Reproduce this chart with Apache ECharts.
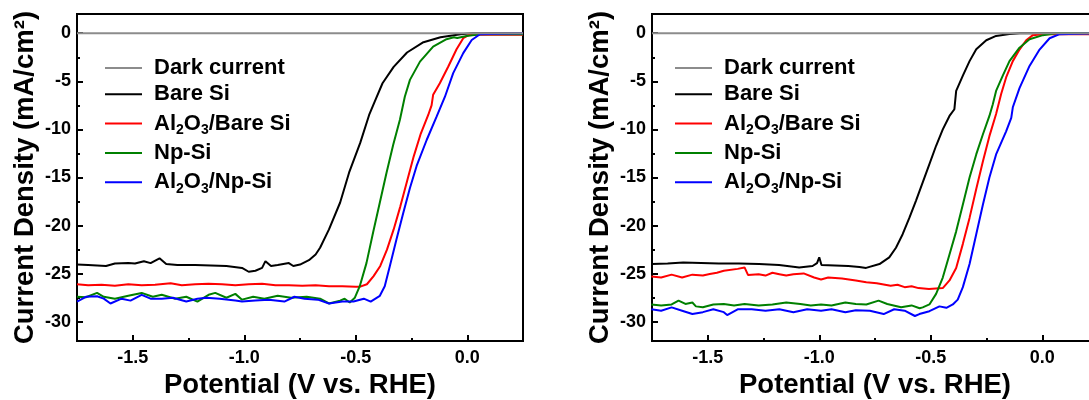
<!DOCTYPE html>
<html><head><meta charset="utf-8">
<script src="https://cdn.jsdelivr.net/npm/echarts@6/dist/echarts.min.js"></script>
<style>html,body{margin:0;padding:0;background:#fff}#c{width:1089px;height:400px}</style>
</head><body><div id="c"></div>
<script>
// ---------- data ----------
const seriesNames = ['Dark current', 'Bare Si', 'Al2O3/Bare Si', 'Np-Si', 'Al2O3/Np-Si'];
const seriesColors = ['#8c8c8c', '#000000', '#ff0000', '#008000', '#0000ff'];
const xRange = [-1.75, 0.25];
const yRange = [-32, 2];
const xMajorTicks = [-1.5, -1.0, -0.5, 0.0];
const xMinorTicks = [-1.25, -0.75, -0.25];
const yMajorTicks = [0, -5, -10, -15, -20, -25, -30];
const yMinorTicks = [-2.5, -7.5, -12.5, -17.5, -22.5, -27.5];

// Left panel
const leftDark = [[-1.75, 0], [0.25, 0]];
const leftBare = [[-1.75,-24.05],[-1.70,-24.1],[-1.62,-24.2],[-1.58,-23.95],[-1.52,-23.9],[-1.49,-23.95],[-1.45,-23.7],[-1.42,-23.9],[-1.38,-23.4],[-1.35,-24.0],[-1.30,-24.1],[-1.22,-24.1],[-1.15,-24.15],[-1.08,-24.2],[-1.01,-24.4],[-0.98,-24.8],[-0.95,-24.7],[-0.92,-24.4],[-0.905,-23.7],[-0.88,-24.2],[-0.85,-24.1],[-0.80,-23.9],[-0.78,-24.2],[-0.75,-24.05],[-0.71,-23.6],[-0.68,-23.0],[-0.66,-22.3],[-0.62,-20.4],[-0.57,-17.6],[-0.53,-14.5],[-0.48,-11.4],[-0.44,-8.5],[-0.415,-7.1],[-0.38,-5.2],[-0.33,-3.5],[-0.27,-2.0],[-0.20,-0.97],[-0.12,-0.41],[-0.03,-0.1],[0.02,0],[0.25,0]];
const leftAlBare = [[-1.75,-26.1],[-1.70,-26.2],[-1.64,-26.15],[-1.58,-26.25],[-1.52,-26.1],[-1.46,-26.2],[-1.40,-26.15],[-1.33,-26.0],[-1.28,-26.2],[-1.22,-26.1],[-1.16,-26.05],[-1.10,-26.1],[-1.04,-26.2],[-0.98,-26.1],[-0.92,-26.05],[-0.86,-26.2],[-0.80,-26.2],[-0.74,-26.25],[-0.68,-26.2],[-0.62,-26.3],[-0.56,-26.3],[-0.50,-26.35],[-0.48,-26.35],[-0.45,-26.1],[-0.42,-25.25],[-0.39,-24.2],[-0.36,-22.5],[-0.33,-20.4],[-0.30,-18.0],[-0.27,-15.4],[-0.24,-12.8],[-0.21,-10.55],[-0.175,-8.5],[-0.16,-7.5],[-0.153,-6.4],[-0.123,-5.2],[-0.085,-3.46],[-0.048,-1.66],[-0.018,-0.52],[0.012,-0.12],[0.05,-0.15],[0.25,-0.15]];
const leftNp = [[-1.75,-27.4],[-1.71,-27.45],[-1.66,-27.0],[-1.63,-27.4],[-1.58,-27.6],[-1.52,-27.3],[-1.46,-27.0],[-1.41,-27.4],[-1.37,-27.2],[-1.31,-27.6],[-1.26,-27.4],[-1.21,-27.9],[-1.16,-27.2],[-1.13,-27.0],[-1.08,-27.5],[-1.04,-27.1],[-1.01,-27.7],[-0.96,-27.4],[-0.91,-27.6],[-0.85,-27.3],[-0.79,-27.5],[-0.72,-27.4],[-0.66,-27.6],[-0.62,-28.1],[-0.57,-27.8],[-0.55,-27.6],[-0.527,-28.0],[-0.504,-27.5],[-0.482,-26.3],[-0.452,-23.9],[-0.422,-20.7],[-0.392,-17.6],[-0.362,-14.5],[-0.332,-11.6],[-0.302,-9.0],[-0.28,-6.6],[-0.257,-4.85],[-0.212,-2.95],[-0.153,-1.39],[-0.093,-0.62],[-0.06,-0.42],[-0.045,-0.5],[-0.003,-0.28],[0.057,-0.1],[0.25,-0.1]];
const leftAlNp = [[-1.75,-27.9],[-1.71,-27.4],[-1.66,-27.35],[-1.63,-27.6],[-1.60,-28.1],[-1.55,-27.6],[-1.51,-27.8],[-1.46,-27.2],[-1.42,-27.6],[-1.37,-27.6],[-1.32,-27.5],[-1.26,-27.9],[-1.21,-27.6],[-1.17,-27.5],[-1.11,-27.6],[-1.04,-27.8],[-1.01,-27.9],[-0.95,-27.8],[-0.89,-27.7],[-0.82,-27.9],[-0.775,-27.4],[-0.73,-27.6],[-0.67,-27.7],[-0.62,-28.1],[-0.56,-27.9],[-0.51,-27.9],[-0.464,-27.6],[-0.433,-27.9],[-0.392,-27.3],[-0.37,-26.3],[-0.347,-24.2],[-0.317,-21.4],[-0.287,-18.7],[-0.257,-16.1],[-0.227,-13.8],[-0.182,-11.1],[-0.137,-8.65],[-0.10,-6.6],[-0.063,-4.15],[-0.018,-2.07],[0.02,-0.7],[0.057,-0.1],[0.25,0]];

// Right panel
const rightDark = [[-1.75, 0], [0.25, 0]];
const rightBare = [[-1.75,-24.0],[-1.68,-23.95],[-1.61,-23.85],[-1.53,-23.9],[-1.45,-23.95],[-1.36,-23.95],[-1.27,-24.0],[-1.18,-24.1],[-1.09,-24.35],[-1.03,-24.2],[-1.01,-23.9],[-1.0,-23.3],[-0.99,-24.1],[-0.93,-24.15],[-0.87,-24.2],[-0.82,-24.3],[-0.79,-24.4],[-0.73,-24.0],[-0.686,-23.3],[-0.656,-22.3],[-0.626,-20.9],[-0.596,-19.2],[-0.566,-17.4],[-0.536,-15.5],[-0.506,-13.6],[-0.476,-11.7],[-0.446,-10.0],[-0.416,-8.6],[-0.394,-7.9],[-0.386,-6.0],[-0.356,-4.4],[-0.326,-2.9],[-0.296,-1.67],[-0.251,-0.73],[-0.207,-0.28],[-0.147,-0.08],[-0.10,0],[0.25,0]];
const rightAlBare = [[-1.753,-25.3],[-1.709,-25.4],[-1.662,-25.1],[-1.615,-25.4],[-1.569,-25.1],[-1.522,-25.2],[-1.491,-25.04],[-1.459,-24.9],[-1.428,-24.7],[-1.366,-24.5],[-1.335,-24.35],[-1.319,-25.15],[-1.272,-25.05],[-1.241,-25.2],[-1.21,-24.9],[-1.179,-25.05],[-1.148,-25.2],[-1.116,-25.05],[-1.07,-24.97],[-1.023,-25.4],[-0.992,-25.6],[-0.96,-25.4],[-0.898,-25.5],[-0.867,-25.6],[-0.836,-25.7],[-0.789,-25.9],[-0.742,-26.0],[-0.68,-26.25],[-0.649,-26.15],[-0.617,-26.4],[-0.586,-26.3],[-0.555,-26.5],[-0.508,-26.6],[-0.446,-26.5],[-0.416,-25.7],[-0.386,-24.4],[-0.356,-21.9],[-0.326,-19.2],[-0.296,-16.2],[-0.266,-13.3],[-0.237,-10.7],[-0.207,-8.4],[-0.184,-6.3],[-0.162,-4.6],[-0.132,-2.9],[-0.102,-1.7],[-0.072,-0.73],[-0.042,-0.2],[0.0,-0.1],[0.25,-0.1]];
const rightNp = [[-1.753,-28.2],[-1.709,-28.3],[-1.662,-28.2],[-1.631,-27.8],[-1.60,-28.15],[-1.569,-28.0],[-1.553,-28.4],[-1.522,-28.5],[-1.475,-28.2],[-1.428,-28.15],[-1.382,-28.3],[-1.335,-28.15],[-1.272,-28.3],[-1.21,-28.2],[-1.148,-28.0],[-1.085,-28.15],[-1.038,-28.3],[-0.992,-28.2],[-0.945,-28.3],[-0.883,-28.0],[-0.836,-28.15],[-0.789,-28.2],[-0.734,-27.8],[-0.695,-28.15],[-0.633,-28.5],[-0.586,-28.3],[-0.55,-28.6],[-0.536,-28.5],[-0.506,-28.2],[-0.476,-27.1],[-0.446,-25.4],[-0.416,-23.0],[-0.386,-20.6],[-0.356,-17.8],[-0.326,-15.0],[-0.296,-12.6],[-0.266,-10.5],[-0.237,-8.6],[-0.222,-7.4],[-0.207,-6.0],[-0.177,-4.4],[-0.147,-2.9],[-0.102,-1.5],[-0.057,-0.63],[0.003,-0.2],[0.06,0],[0.25,0]];
const rightAlNp = [[-1.753,-28.7],[-1.709,-28.85],[-1.662,-28.5],[-1.615,-28.85],[-1.569,-29.2],[-1.522,-29.0],[-1.475,-28.7],[-1.428,-29.0],[-1.413,-29.3],[-1.366,-28.7],[-1.303,-28.7],[-1.241,-28.85],[-1.179,-28.7],[-1.116,-29.0],[-1.054,-28.7],[-0.992,-28.85],[-0.945,-28.7],[-0.883,-29.0],[-0.836,-28.8],[-0.773,-28.85],[-0.711,-29.2],[-0.664,-28.7],[-0.617,-28.85],[-0.571,-29.4],[-0.551,-29.2],[-0.506,-28.9],[-0.461,-28.4],[-0.43,-28.55],[-0.401,-28.2],[-0.379,-27.7],[-0.356,-26.4],[-0.326,-24.0],[-0.296,-20.9],[-0.266,-17.8],[-0.237,-15.0],[-0.207,-12.6],[-0.162,-10.2],[-0.139,-8.8],[-0.132,-7.7],[-0.102,-5.7],[-0.057,-3.4],[-0.012,-1.7],[0.033,-0.52],[0.078,-0.1],[0.25,0]];

const panels = [
  [leftDark, leftBare, leftAlBare, leftNp, leftAlNp],
  [rightDark, rightBare, rightAlBare, rightNp, rightAlNp]
];

// ---------- chart ----------
const FONT = '"Liberation Sans", Arial, Helvetica, sans-serif';
const gridBoxes = [
  { left: 77, top: 14, width: 446, height: 327 },
  { left: 652, top: 14, width: 446, height: 327 }
];
const legendPos = [{ left: 105, top: 57 }, { left: 675, top: 57 }];

function richName(name) {
  return name.split(/(\d)/).filter(s => s.length).map(s => /^\d$/.test(s) ? '{s|' + s + '}' : '{n|' + s + '}').join('');
}

const grid = [], xAxis = [], yAxis = [], series = [], legend = [];
gridBoxes.forEach((g, i) => {
  grid.push(Object.assign({ show: true, borderColor: '#000', borderWidth: 2, backgroundColor: 'transparent', containLabel: false, outerBoundsMode: 'none' }, g));
  xAxis.push({
    gridIndex: i, type: 'value', position: 'bottom', min: xRange[0], max: xRange[1],
    axisLine: { onZero: false, lineStyle: { color: '#000', width: 2 } },
    axisTick: { inside: true, length: 6, lineStyle: { color: '#000', width: 2 }, customValues: xMajorTicks },
    axisLabel: { customValues: xMajorTicks, formatter: v => Number(v).toFixed(1), margin: 8, fontSize: 18, fontWeight: 'bold', color: '#000', fontFamily: FONT },
    splitLine: { show: false },
    name: 'Potential (V vs. RHE)', nameLocation: 'middle', nameGap: 30,
    nameTextStyle: { fontSize: 27.5, fontWeight: 'bold', color: '#000', fontFamily: FONT }
  });
  xAxis.push({
    gridIndex: i, type: 'value', position: 'bottom', min: xRange[0], max: xRange[1],
    axisLine: { show: false, onZero: false },
    axisTick: { inside: true, length: 3, lineStyle: { color: '#000', width: 2 }, customValues: xMinorTicks },
    axisLabel: { show: false }, splitLine: { show: false }
  });
  yAxis.push({
    gridIndex: i, type: 'value', position: 'left', min: yRange[0], max: yRange[1],
    axisLine: { onZero: false, lineStyle: { color: '#000', width: 2 } },
    axisTick: { inside: true, length: 6, lineStyle: { color: '#000', width: 2 }, customValues: yMajorTicks },
    axisLabel: { customValues: yMajorTicks, formatter: v => String(v), margin: 6, fontSize: 18, fontWeight: 'bold', color: '#000', fontFamily: FONT },
    splitLine: { show: false },
    name: 'Current Density (mA/cm²)', nameLocation: 'middle', nameGap: 38,
    nameTextStyle: { fontSize: 27.5, fontWeight: 'bold', color: '#000', fontFamily: FONT }
  });
  yAxis.push({
    gridIndex: i, type: 'value', position: 'left', min: yRange[0], max: yRange[1],
    axisLine: { show: false, onZero: false },
    axisTick: { inside: true, length: 3, lineStyle: { color: '#000', width: 2 }, customValues: yMinorTicks },
    axisLabel: { show: false }, splitLine: { show: false }
  });
  panels[i].forEach((d, k) => {
    series.push({
      type: 'line', name: seriesNames[k], xAxisIndex: 2 * i, yAxisIndex: 2 * i,
      data: d, showSymbol: false, symbol: 'none', smooth: false,
      lineStyle: { color: seriesColors[k], width: 2 }, itemStyle: { color: seriesColors[k] },
      z: k === 0 ? 3 : 2, animation: false, clip: true
    });
  });
  legend.push({
    data: seriesNames, orient: 'vertical', left: legendPos[i].left, top: legendPos[i].top,
    padding: 0, itemGap: 4.3, itemWidth: 37, itemHeight: 2, icon: 'rect', selectedMode: false,
    formatter: richName,
    textStyle: {
      padding: [0, 0, 0, 7],
      rich: {
        n: { fontSize: 22, fontWeight: 'bold', color: '#000', fontFamily: FONT, lineHeight: 24 },
        s: { fontSize: 14, fontWeight: 'bold', color: '#000', fontFamily: FONT, lineHeight: 24, padding: [14, 0, 0, 0] }
      }
    }
  });
});

const chart = echarts.init(document.getElementById('c'), null, { renderer: 'canvas' });
chart.setOption({ animation: false, backgroundColor: '#fff', grid, xAxis, yAxis, series, legend });
</script>
</body></html>
